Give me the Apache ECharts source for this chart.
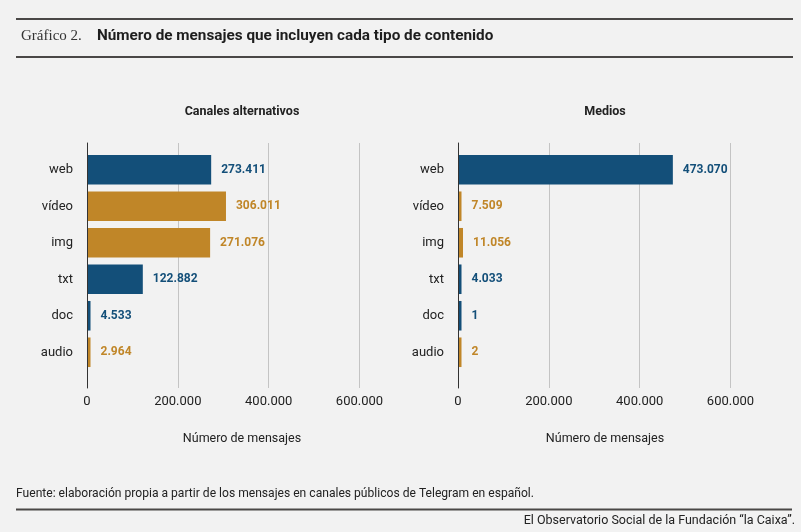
<!DOCTYPE html>
<html>
<head>
<meta charset="utf-8">
<script src="https://cdn.jsdelivr.net/npm/echarts@6/dist/echarts.min.js"></script>
<style>
  html, body { margin: 0; padding: 0; background: #f2f2f2; }
  #chart { width: 801px; height: 532px; }
</style>
</head>
<body>
<div id="chart"></div>
<script>
// datos del gráfico
const categorias = ['web', 'vídeo', 'img', 'txt', 'doc', 'audio'];
const canalesAlternativos = [273411, 306011, 271076, 122882, 4533, 2964];
const medios = [473070, 7509, 11056, 4033, 1, 2];
const tipoColor = ['azul', 'oro', 'oro', 'azul', 'azul', 'oro'];
const ejeTicks = [0, 200000, 400000, 600000];

const COLORES = { azul: '#134f79', oro: '#c08628' };
const FONT = 'Roboto, "Noto Sans", sans-serif';

// separador de miles con punto
function fmt(v) {
    return String(v).replace(/\B(?=(\d{3})+(?!\d))/g, '.');
}

const chart = echarts.init(document.getElementById('chart'), null, { renderer: 'canvas' });

const paneles = [
    { nombre: 'Canales alternativos', datos: canalesAlternativos, left: 87, centro: 237 },
    { nombre: 'Medios', datos: medios, left: 458, centro: 600 }
];

const grid = [], xAxis = [], yAxis = [], series = [], title = [];

title.push({
    text: 'Gráfico 2.',
    left: 16, top: 24,
    textStyle: { fontFamily: '"Liberation Serif", "DejaVu Serif", serif', fontWeight: 'normal', fontSize: 15, color: '#333' }
});
title.push({
    text: 'Número de mensajes que incluyen cada tipo de contenido',
    left: 92, top: 24,
    textStyle: { fontFamily: FONT, fontWeight: 'bold', fontSize: 15.3, color: '#1e1e1e' }
});

paneles.forEach((p, i) => {
    // grid de fondo: líneas verticales, eje y etiquetas
    grid.push({ left: p.left, top: 143, width: 272.5, height: 245 });
    // grid de las barras
    grid.push({ left: p.left, top: 151.5, width: 272.5, height: 219 });

    xAxis.push({
        gridIndex: i * 2, type: 'value', min: 0, max: ejeTicks[ejeTicks.length - 1], interval: ejeTicks[1] - ejeTicks[0],
        axisLine: { show: false }, axisTick: { show: false },
        splitLine: { show: true, lineStyle: { color: '#c4c4c4', width: 1 } },
        axisLabel: { margin: 7, fontFamily: FONT, fontSize: 13, color: '#222', formatter: v => fmt(v) }
    });
    xAxis.push({
        gridIndex: i * 2 + 1, type: 'value', min: 0, max: ejeTicks[ejeTicks.length - 1],
        show: false
    });
    yAxis.push({
        gridIndex: i * 2, type: 'value', min: 0, max: 1, z: 5,
        axisLine: { show: true, lineStyle: { color: '#333', width: 1 } },
        axisTick: { show: false }, axisLabel: { show: false }, splitLine: { show: false }
    });
    yAxis.push({
        gridIndex: i * 2 + 1, type: 'category', data: categorias, inverse: true,
        axisLine: { show: false }, axisTick: { show: false },
        axisLabel: { margin: 14, fontFamily: FONT, fontSize: 13, color: '#222' }
    });

    series.push({
        type: 'bar',
        xAxisIndex: i * 2 + 1, yAxisIndex: i * 2 + 1,
        data: p.datos.map((v, k) => ({
            value: v,
            itemStyle: { color: COLORES[tipoColor[k]] },
            label: { color: COLORES[tipoColor[k]] }
        })),
        barCategoryGap: '19%',
        barMinHeight: 3.5,
        label: {
            show: true, position: 'right', distance: 10,
            fontFamily: FONT, fontSize: 12, fontWeight: 'bold',
            formatter: params => fmt(params.value)
        },
        silent: true
    });

    title.push({
        text: p.nombre,
        left: p.centro, top: 100, textAlign: 'center',
        textStyle: { fontFamily: FONT, fontWeight: 'bold', fontSize: 12.5, color: '#222' }
    });
    title.push({
        text: 'Número de mensajes',
        left: p.centro, top: 427, textAlign: 'center',
        textStyle: { fontFamily: FONT, fontWeight: 'normal', fontSize: 12.5, color: '#222' }
    });
});

const option = {
    backgroundColor: '#f2f2f2',
    animation: false,
    title: title,
    grid: grid,
    xAxis: xAxis,
    yAxis: yAxis,
    series: series,
    graphic: [
        // reglas del encabezado y pie
        { type: 'line', shape: { x1: 16, y1: 19, x2: 793, y2: 19 }, style: { stroke: '#4a4847', lineWidth: 2 } },
        { type: 'line', shape: { x1: 16, y1: 57, x2: 793, y2: 57 }, style: { stroke: '#4a4847', lineWidth: 2 } },
        { type: 'line', shape: { x1: 16, y1: 509.5, x2: 792, y2: 509.5 }, style: { stroke: '#4a4847', lineWidth: 2 } },
        {
            type: 'text', left: 16, top: 488,
            style: { text: 'Fuente: elaboración propia a partir de los mensajes en canales públicos de Telegram en español.', font: '12.1px ' + FONT, fill: '#222' }
        },
        {
            type: 'text', right: 6, top: 514,
            style: { text: 'El Observatorio Social de la Fundación “la Caixa”.', font: '12.5px ' + FONT, fill: '#222' }
        }
    ]
};

chart.setOption(option);
window.addEventListener('resize', () => chart.resize());
</script>
</body>
</html>
